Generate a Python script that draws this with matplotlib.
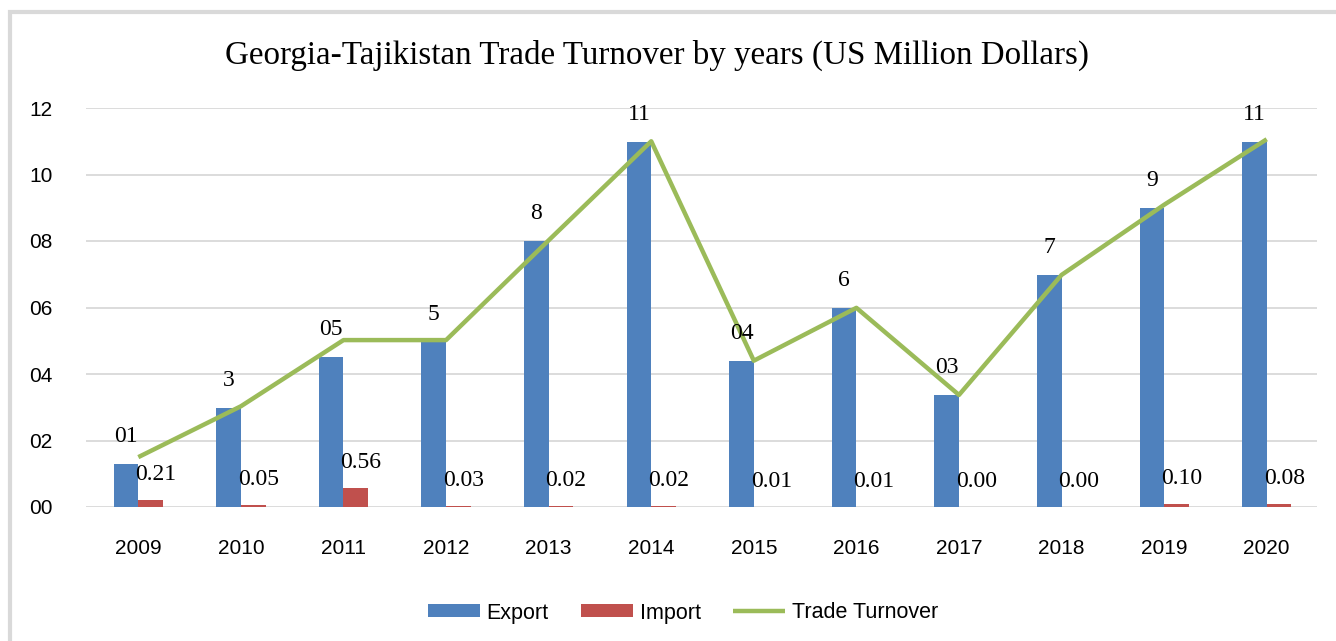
import matplotlib
matplotlib.use("Agg")
import matplotlib.pyplot as plt
import numpy as np
from matplotlib.patches import Rectangle

years = ["2009", "2010", "2011", "2012", "2013", "2014", "2015", "2016", "2017", "2018", "2019", "2020"]
export = [1.29, 2.98, 4.51, 4.96, 8.0, 10.98, 4.39, 5.98, 3.37, 6.98, 8.99, 10.98]
imports = [0.21, 0.05, 0.56, 0.03, 0.02, 0.02, 0.01, 0.01, 0.00, 0.00, 0.10, 0.08]
turnover = [1.50, 3.03, 5.02, 5.02, 8.02, 11.0, 4.40, 5.99, 3.37, 6.98, 9.09, 11.06]
export_labels = ["01", "3", "05", "5", "8", "11", "04", "6", "03", "7", "9", "11"]
import_labels = ["0.21", "0.05", "0.56", "0.03", "0.02", "0.02", "0.01", "0.01", "0.00", "0.00", "0.10", "0.08"]
yticks = [0, 2, 4, 6, 8, 10, 12]
ytick_labels = ["00", "02", "04", "06", "08", "10", "12"]
title = "Georgia-Tajikistan Trade Turnover by years (US Million Dollars)"

BLUE = "#4F81BD"
RED = "#C0504D"
GREEN = "#9BBB59"

fig = plt.figure(figsize=(13.36, 6.41), dpi=100)
W, H = 1336, 641
ax = fig.add_axes([86 / W, 1 - 507 / H, (1317 - 86) / W, (507 - 108) / H])

# outer frame
fig.patches.append(Rectangle((9.5 / W, -0.1), 1.2, (641 - 12) / H + 0.1, transform=fig.transFigure,
                             fill=False, edgecolor="#d9d9d9", linewidth=3, zorder=0))

x = np.arange(len(years))
bw = 0.24
b1 = ax.bar(x - bw / 2, export, bw, color=BLUE, label="Export", zorder=2)
b2 = ax.bar(x + bw / 2, imports, bw, color=RED, label="Import", zorder=2)
l1, = ax.plot(x, turnover, color=GREEN, linewidth=3.2, label="Trade Turnover", zorder=3,
              solid_capstyle="butt")

serif = "Liberation Serif"
sans = "Liberation Sans"
for i in range(len(years)):
    ax.text(x[i] - bw / 2, export[i] + 0.82, export_labels[i], ha="center", va="center",
            fontsize=17, family=serif, zorder=4)
    ax.text(x[i] + bw / 2 + 0.05, imports[i] + 0.77, import_labels[i], ha="center", va="center",
            fontsize=17, family=serif, zorder=4)

ax.set_xlim(-0.51, 11.49)
ax.set_ylim(0, 12)
ax.set_yticks(yticks)
ax.set_yticklabels(ytick_labels, family=sans, fontsize=15)
ax.set_xticks(x)
ax.set_xticklabels(years, family=sans, fontsize=15)
ax.tick_params(length=0)
ax.tick_params(axis="x", pad=23)
ax.tick_params(axis="y", pad=24)
ax.grid(axis="y", color="#d9d9d9", linewidth=1.3, zorder=0)
ax.set_axisbelow(True)
for s in ax.spines.values():
    s.set_visible(False)

fig.text(657 / W, 1 - 55 / H, title, ha="center", va="center", family=serif, fontsize=23.8)

leg = fig.legend([b1, b2, l1], ["Export", "Import", "Trade Turnover"], loc="center",
                 bbox_to_anchor=(683 / W, 1 - 613 / H), ncol=3,
                 frameon=False, prop={"family": sans, "size": 15.5}, handlelength=2.4,
                 handleheight=0.55, columnspacing=1.5, handletextpad=0.33)

fig.savefig("out.png", dpi=100)
